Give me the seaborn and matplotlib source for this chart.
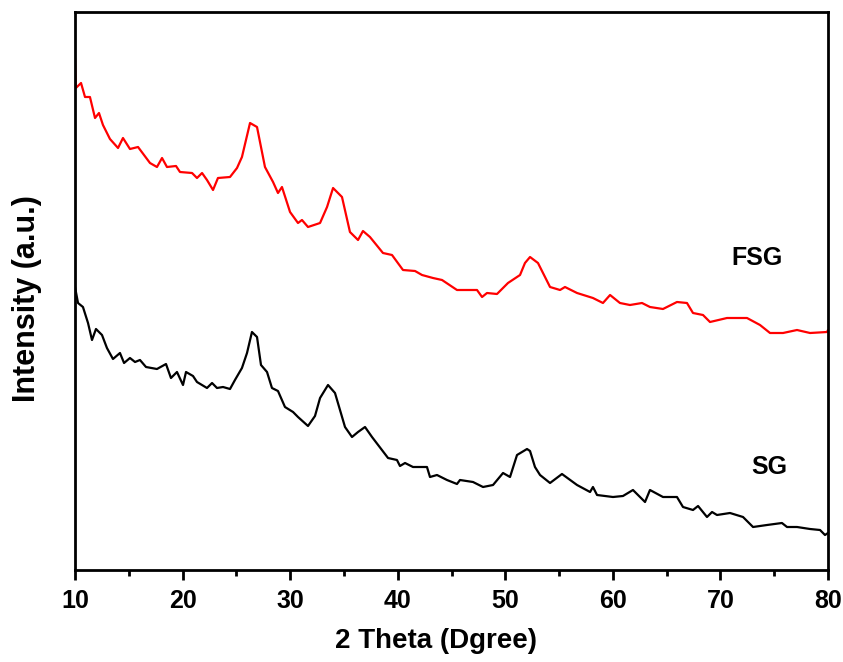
import numpy as np
import pandas as pd
import matplotlib
matplotlib.use("Agg")
import matplotlib.pyplot as plt
import seaborn as sns
from matplotlib.ticker import MultipleLocator

# FSG (red) trace: 2-theta (deg) and intensity (a.u., arbitrary offset)
fsg_x = [10.0, 10.08, 10.56, 10.93, 11.39, 11.86, 12.23, 12.60, 13.25, 14.0, 14.46, 15.11, 15.86,
         16.97, 17.62, 18.09, 18.55, 19.39, 19.76, 20.88, 21.34, 21.81, 22.27, 22.83, 23.29,
         24.41, 25.06, 25.52, 26.27, 26.92, 27.66, 28.41, 28.87, 29.24, 29.99, 30.73, 31.10,
         31.66, 32.78, 33.43, 33.99, 34.82, 35.56, 36.31, 36.77, 37.42, 38.63, 39.47, 40.49,
         41.61, 42.26, 43.28, 44.12, 45.51, 47.37, 47.84, 48.30, 49.23, 50.25, 51.37, 51.83,
         52.30, 53.04, 54.16, 55.09, 55.55, 56.67, 58.15, 59.08, 59.74, 60.66, 61.59, 62.71,
         63.45, 64.66, 65.96, 66.89, 67.45, 68.38, 69.03, 70.61, 72.47, 73.68, 74.61, 75.82,
         77.12, 78.33, 79.91, 80.0]
fsg_y = [512, 482, 487, 473, 473, 452, 457, 445, 431, 422, 432, 421, 423,
         407, 403, 412, 403, 404, 398, 397, 392, 397, 390, 380, 392,
         393, 402, 413, 447, 443, 403, 388, 377, 383, 358, 347, 350,
         343, 347, 363, 382, 373, 338, 330, 339, 333, 317, 315, 300,
         299, 295, 292, 290, 280, 280, 273, 277, 276, 287, 295, 307,
         313, 307, 283, 280, 283, 277, 272, 267, 275, 267, 265, 267,
         263, 261, 268, 267, 257, 255, 248, 252, 252, 245, 237, 237,
         240, 237, 238, 240]

# SG (black) trace
sg_x = [10.0, 10.28, 10.74, 11.21, 11.58, 11.95, 12.51, 12.97, 13.53, 14.18, 14.56, 15.11, 15.58,
        16.04, 16.60, 17.62, 18.46, 18.92, 19.48, 20.04, 20.32, 20.97, 21.34, 22.27, 22.74,
        23.20, 23.76, 24.41, 24.87, 25.52, 25.99, 26.45, 26.92, 27.29, 27.85, 28.31, 28.87,
        29.52, 30.27, 30.73, 31.66, 32.31, 32.78, 33.52, 34.17, 35.10, 35.75, 36.31, 36.96,
        37.61, 39.10, 39.93, 40.21, 40.68, 41.42, 42.72, 43.00, 43.65, 44.58, 45.51, 45.79,
        47.00, 47.93, 48.86, 49.79, 50.44, 51.09, 52.02, 52.30, 52.76, 53.23, 54.16, 55.27,
        56.67, 57.88, 58.15, 58.53, 60.01, 60.94, 61.87, 62.99, 63.45, 64.66, 65.96, 66.52,
        67.45, 67.92, 68.75, 69.22, 69.68, 70.89, 72.10, 73.03, 74.33, 75.72, 76.19, 77.12,
        78.33, 79.26, 79.72, 80.0]
sg_y = [283, 267, 263, 247, 230, 241, 235, 222, 211, 217, 207, 212, 208,
        210, 203, 201, 206, 192, 198, 185, 198, 194, 188, 182, 187,
        182, 183, 181, 190, 202, 217, 238, 233, 205, 198, 182, 179,
        163, 158, 153, 144, 154, 172, 185, 177, 143, 133, 138, 143,
        133, 112, 110, 104, 107, 103, 103, 93, 95, 90, 86, 90,
        88, 83, 85, 97, 93, 115, 121, 119, 103, 95, 87, 96,
        85, 78, 83, 75, 73, 74, 80, 68, 80, 73, 73, 63,
        60, 64, 53, 58, 55, 57, 53, 43, 45, 47, 43, 43,
        41, 40, 35, 37]

x_ticks = [10, 20, 30, 40, 50, 60, 70, 80]
series_names = ["FSG", "SG"]
label_pos = {"FSG": (73.4, 312), "SG": (74.5, 103)}

sns.set_style("ticks")
plt.rcParams['font.family'] = ['Liberation Sans', 'DejaVu Sans']
plt.rcParams['text.color'] = 'black'
plt.rcParams['axes.labelcolor'] = 'black'
plt.rcParams['xtick.color'] = 'black'
plt.rcParams['ytick.color'] = 'black'

fig = plt.figure(figsize=(8.43, 6.62), dpi=100)
ax = fig.add_axes([75/843, 1 - 570/662, (828 - 75)/843, (570 - 12)/662])

df_fsg = pd.DataFrame({"x": fsg_x, "y": fsg_y})
df_sg = pd.DataFrame({"x": sg_x, "y": sg_y})
sns.lineplot(data=df_fsg, x="x", y="y", ax=ax, color="#ff0000", linewidth=1.6, sort=False)
sns.lineplot(data=df_sg, x="x", y="y", ax=ax, color="#000000", linewidth=1.6, sort=False)

ax.set_xlim(10, 80)
ax.set_ylim(0, 558)
ax.set_xticks(x_ticks)
ax.set_xticklabels([str(t) for t in x_ticks], fontsize=18, fontweight="bold", color="black")
ax.xaxis.set_minor_locator(MultipleLocator(5))
ax.tick_params(axis="x", which="major", direction="out", length=7, width=2, pad=6.5, top=False)
ax.tick_params(axis="x", which="minor", direction="out", length=4.5, width=2, top=False)
ax.set_yticks([])
ax.tick_params(axis="y", left=False, right=False)

for sp in ax.spines.values():
    sp.set_visible(True)
    sp.set_linewidth(2.0)
    sp.set_color("black")

ax.set_xlabel("2 Theta (Dgree)", fontsize=20, fontweight="bold", color="black")
ax.xaxis.label.set_va("center")
ax.xaxis.set_label_coords((436 - 75)/753, -71/558)
ax.set_ylabel("Intensity (a.u.)", fontsize=22, fontweight="bold", color="black")
ax.yaxis.label.set_va("center")
ax.yaxis.set_label_coords(-48/753, (570 - 299)/558)

for name in series_names:
    px, py = label_pos[name]
    ax.text(px, py, name, fontsize=18, fontweight="bold", ha="center", va="center", color="black")

fig.savefig("out.png", dpi=100)
